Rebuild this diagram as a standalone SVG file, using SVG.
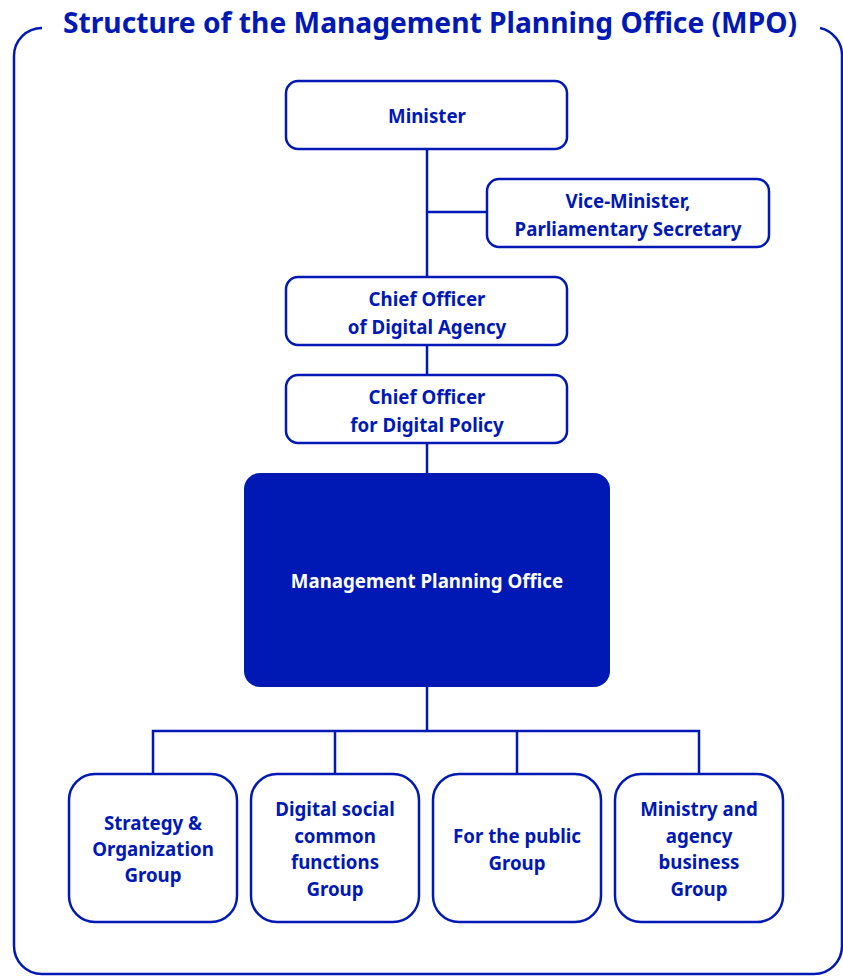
<svg xmlns="http://www.w3.org/2000/svg" width="843" height="976" viewBox="0 0 843 976">
<style>
.box{fill:#fff;stroke:#0019B4;stroke-width:2.5}
.big{fill:#0019B4}
.t{font-family:"Noto Sans","Open Sans",sans-serif;font-weight:bold;font-size:18.7px;fill:#0019B4;text-anchor:middle}
.w{fill:#fff}
.ln{fill:none;stroke:#0019B4;stroke-width:2.5}
.title{font-family:"Noto Sans","Open Sans",sans-serif;font-weight:bold;font-size:28.2px;fill:#0019B4}
</style>
<rect width="843" height="976" fill="#fff"/>
<path class="ln" d="M42,28 A28,28 0 0 0 14,56 V946 A28,28 0 0 0 42,974 H814 A28,28 0 0 0 842,946 V56 A28,28 0 0 0 820,28"/>
<text class="title" x="63" y="33">Structure of the Management Planning Office (MPO)</text>
<g id="connectors">
<path class="ln" d="M427,149 V277 M427,212 H487 M427,345 V375 M427,443 V473 M427,687 V731 M153,774 V731 H699 V774 M335,731 V774 M517,731 V774"/>
</g>
<g id="minister"><rect class="box" x="286" y="81" width="281" height="68" rx="12"/><text class="t" x="427" y="123">Minister</text></g>
<g id="vice"><rect class="box" x="487" y="179" width="282" height="68" rx="12"/><text class="t" x="628" y="208">Vice-Minister,</text><text class="t" x="628" y="236">Parliamentary Secretary</text></g>
<g id="cda"><rect class="box" x="286" y="277" width="281" height="68" rx="12"/><text class="t" x="427" y="306">Chief Officer</text><text class="t" x="427" y="334">of Digital Agency</text></g>
<g id="cdp"><rect class="box" x="286" y="375" width="281" height="68" rx="12"/><text class="t" x="427" y="404">Chief Officer</text><text class="t" x="427" y="432">for Digital Policy</text></g>
<g id="mpo"><rect class="big" x="244" y="473" width="366" height="214" rx="16"/><text class="t w" x="427" y="588">Management Planning Office</text></g>
<g id="g1"><rect class="box" x="69" y="774" width="168" height="148" rx="26"/><text class="t" x="153" y="830">Strategy &amp;</text><text class="t" x="153" y="856">Organization</text><text class="t" x="153" y="882">Group</text></g>
<g id="g2"><rect class="box" x="251" y="774" width="168" height="148" rx="26"/><text class="t" x="335" y="816">Digital social</text><text class="t" x="335" y="843">common</text><text class="t" x="335" y="869">functions</text><text class="t" x="335" y="896">Group</text></g>
<g id="g3"><rect class="box" x="433" y="774" width="168" height="148" rx="26"/><text class="t" x="517" y="843">For the public</text><text class="t" x="517" y="870">Group</text></g>
<g id="g4"><rect class="box" x="615" y="774" width="168" height="148" rx="26"/><text class="t" x="699" y="816">Ministry and</text><text class="t" x="699" y="843">agency</text><text class="t" x="699" y="869">business</text><text class="t" x="699" y="896">Group</text></g>
</svg>
